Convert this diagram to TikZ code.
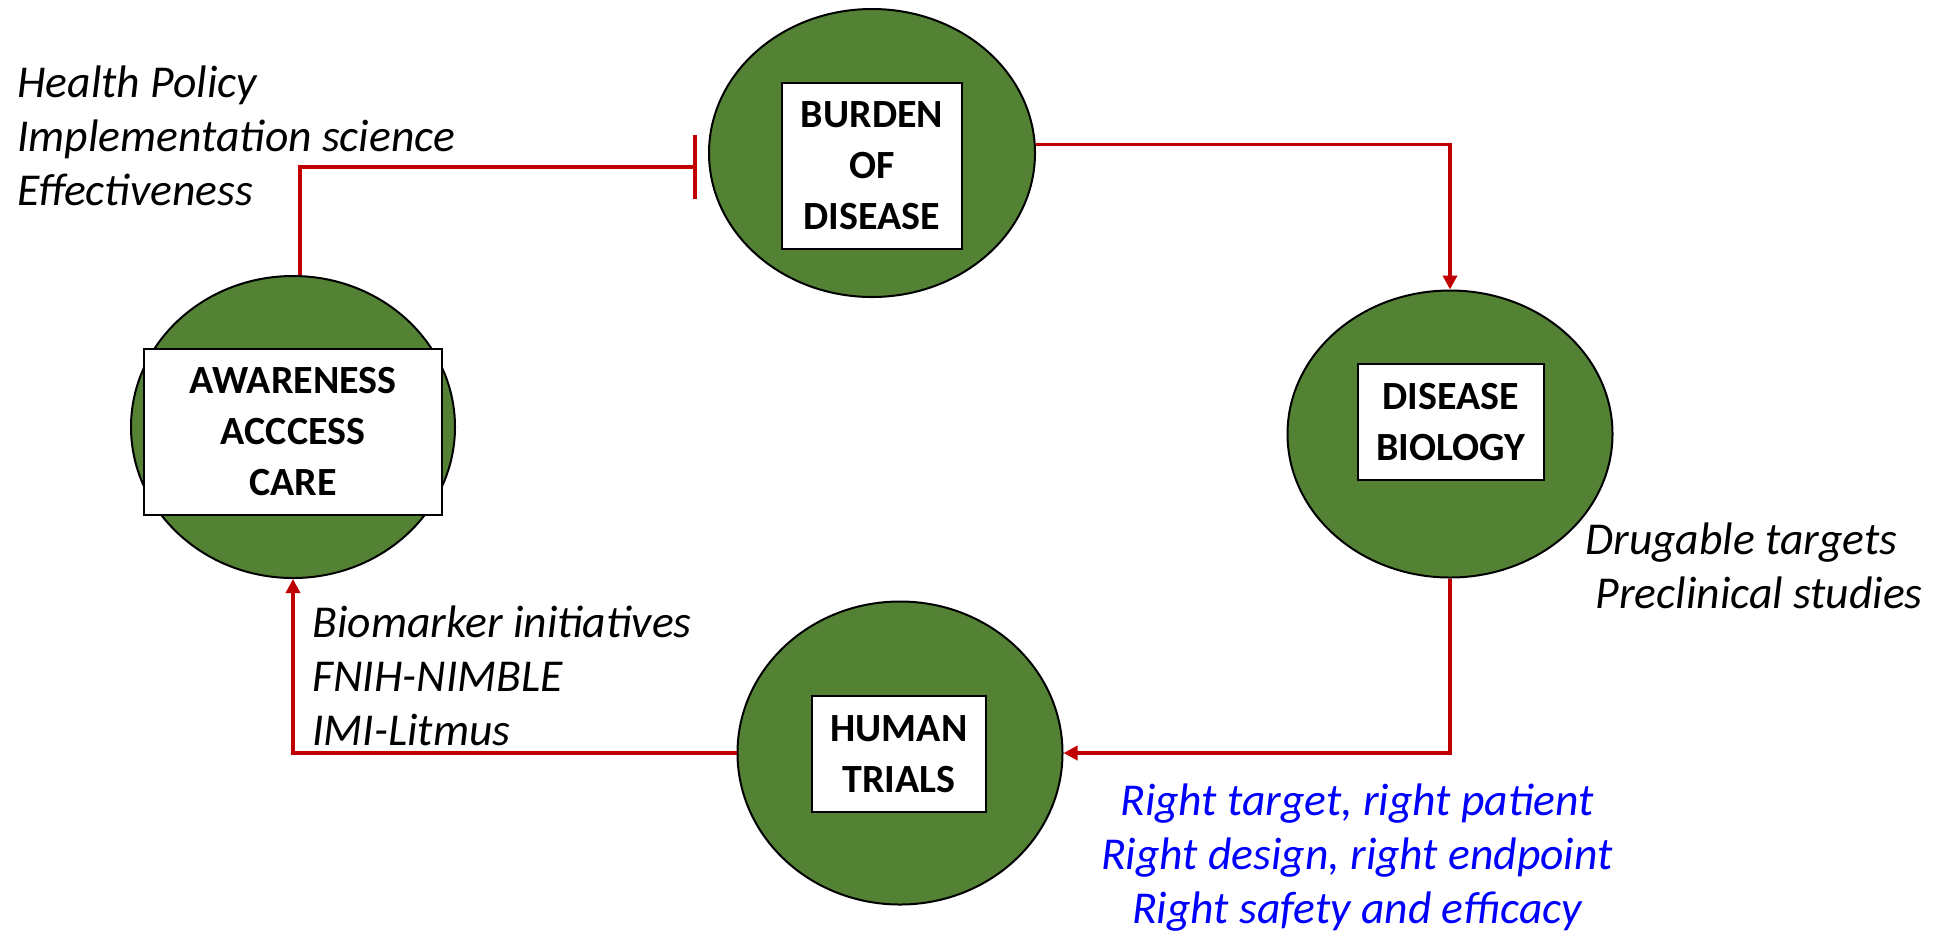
\documentclass[tikz,border=0pt]{standalone}
\usepackage{fontspec}
\setmainfont{Carlito}
\usetikzlibrary{shapes.geometric,arrows.meta}
\definecolor{stagegreen}{RGB}{84,130,53}
\definecolor{flowred}{RGB}{192,0,0}
\definecolor{noteblue}{RGB}{0,0,255}
\tikzset{
  stage/.style={ellipse, draw=black, line width=1pt, fill=stagegreen, inner sep=0pt},
  stagebox/.style={draw=black, line width=0.75pt, fill=white, inner sep=0pt, align=center,
    font=\fontsize{20}{25.5}\selectfont\bfseries},
  flow/.style={draw=flowred, line width=1.8pt},
  flowtip/.style={-{Triangle[length=7pt,width=7pt]}},
  note/.style={inner sep=0pt, font=\fontsize{22.8}{27}\selectfont\itshape}
}

\begin{document}
\begin{tikzpicture}[x=0.5pt,y=-0.5pt]
\useasboundingbox (0,0) rectangle (1942,934);

% the four stages
\node[stage, minimum width=163pt, minimum height=144pt] (burden) at (872,153) {};
\node[stage, minimum width=162.5pt, minimum height=143.5pt] (biology) at (1450,434) {};
\node[stage, minimum width=162.5pt, minimum height=151.5pt] (trials) at (900,753) {};
\node[stage, minimum width=162pt, minimum height=151pt] (awareness) at (293,427) {};

\node[stagebox, minimum width=90pt, minimum height=83pt] (burdenbox) at (872,166) {BURDEN\\OF\\DISEASE};
\node[stagebox, minimum width=93pt, minimum height=58pt] (biologybox) at (1451,422) {DISEASE\\BIOLOGY};
\node[stagebox, minimum width=87pt, minimum height=58pt] (trialsbox) at (899,754) {HUMAN\\TRIALS};
\node[stagebox, minimum width=149pt, minimum height=83pt] (awarenessbox) at (293,432) {AWARENESS\\ACCCESS\\CARE};

% connectors
\draw[flow, -{Bar[width=32pt]}, shorten >=6pt] ([xshift=3.5pt]awareness.north) |- (burden.185);
\draw[flow, flowtip] (burden.3) -| (biology.north);
\draw[flow, flowtip] (biology.south) |- (trials.east);
\draw[flow, flowtip] (trials.west) -| (awareness.south);

% notes (base = last line)
\node[note, anchor=base west, align=left] (policy) at (17,205) {Health Policy\\Implementation science\\Effectiveness};
\node[note, anchor=base west, align=left] (drug) at (1585,608) {Drugable targets\\\ Preclinical studies};
\node[note, anchor=base west, align=left] (biomarker) at (312,745) {Biomarker initiatives\\FNIH-NIMBLE\\IMI-Litmus};
\node[note, anchor=base, align=center, text=noteblue] (right) at (1357,923) {Right target, right patient\\Right design, right endpoint\\Right safety and efficacy};
%\node at (1357,600) {};

\end{tikzpicture}
\end{document}
